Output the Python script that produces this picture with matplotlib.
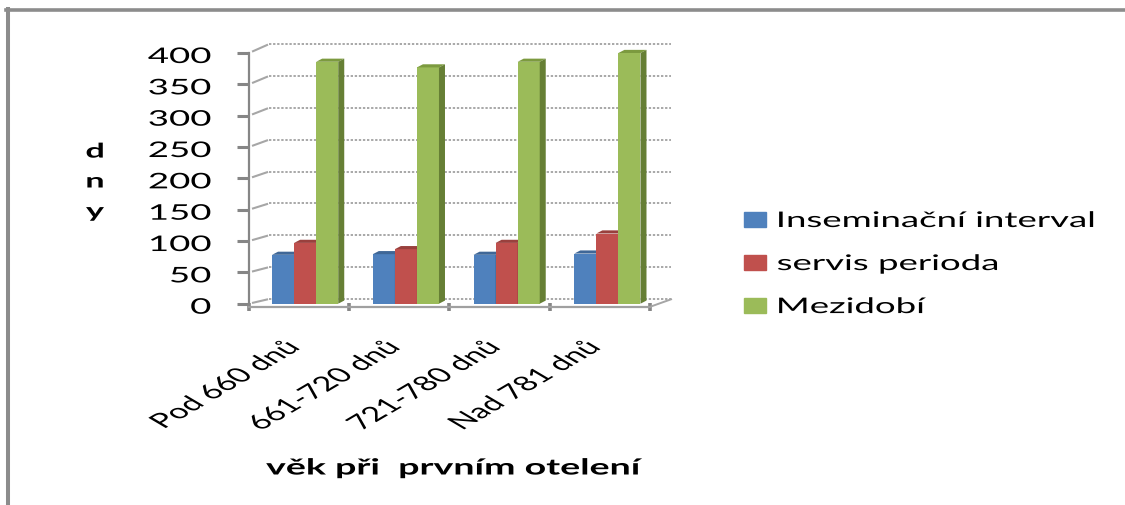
import matplotlib
matplotlib.use("Agg")
import matplotlib.pyplot as plt
from matplotlib.lines import Line2D
from matplotlib.patches import Patch
from matplotlib.patheffects import AbstractPathEffect
from matplotlib.transforms import Affine2D

W, H = 1125, 506

# Data
categories = ["Pod 660 dnů", "661-720 dnů", "721-780 dnů", "Nad 781 dnů"]
inseminacni = [78, 79, 78, 80]
servis = [97, 87, 97, 112]
mezidobi = [386, 377, 386, 400]
y_ticks = [0, 50, 100, 150, 200, 250, 300, 350, 400]

series = [
    ("Inseminační interval", inseminacni, "#4f81bd", "#3f6797", "#385d8a"),
    ("servis perioda", servis, "#c0504d", "#99403d", "#8c3a38"),
    ("Mezidobí", mezidobi, "#9bbb59", "#7c9a3f", "#667f35"),
]

GRAY = "#868686"
BAR_W = 0.22
DEPTH_X = 0.06   # bar depth in category units
DEPTH_Y = 5.0    # bar depth in value units
FONT = "Lato"
STRETCH = 1.7


class StretchX(AbstractPathEffect):
    """Widen drawn text horizontally, keeping one edge of it in place."""

    def __init__(self, factor=STRETCH, anchor="left", dy=0):
        super().__init__()
        self.factor = factor
        self.anchor = anchor
        self.dy = dy

    def draw_path(self, renderer, gc, tpath, affine, rgbFace=None):
        box = tpath.get_extents(affine)
        ax_x = {"left": box.x0, "right": box.x1, "center": (box.x0 + box.x1) / 2}[self.anchor]
        wide = affine + Affine2D().translate(-ax_x, 0).scale(self.factor, 1).translate(ax_x, self.dy)
        renderer.draw_path(gc, tpath, wide, rgbFace)


def px_rect(x0, y_top, x1, y_bottom):
    return [x0 / W, 1 - y_bottom / H, (x1 - x0) / W, (y_bottom - y_top) / H]


fig = plt.figure(figsize=(W / 100, H / 100), dpi=100, facecolor="white")

# Outer chart frame, open at the right and bottom
fig.add_artist(Line2D([6 / W, 1], [1 - 10.8 / H] * 2, color="#8c8c8c", lw=2.6))
fig.add_artist(Line2D([8 / W] * 2, [0, 1 - 9.5 / H], color="#8c8c8c", lw=2.9))

# Back wall with dotted gridlines
back = fig.add_axes(px_rect(269, 45, 671, 300))
back.set_xlim(0, 4)
back.set_ylim(0, 400)
back.set_yticks(y_ticks)
back.set_xticks([])
back.tick_params(left=False, labelleft=False)
back.grid(axis="y", color="#a8a8a8", lw=1.4, ls=(0, (1.2, 0.9)))
for gl in back.get_ygridlines():
    gl.set_clip_on(False)
back.set_axisbelow(True)
for s in back.spines.values():
    s.set_visible(False)
back.patch.set_alpha(0)

# Front axes carrying bars, ticks and labels
ax = fig.add_axes(px_rect(249, 54, 650, 304.7))
ax.patch.set_alpha(0)
ax.set_xlim(0, 4)
ax.set_ylim(0, 400)

for j, (name, vals, front, top, side) in enumerate(series):
    for i, v in enumerate(vals):
        x0 = i + 0.23 + 0.005 * i + j * BAR_W
        x1 = x0 + BAR_W
        ax.bar(x0, v, BAR_W, align="edge", color=front, zorder=3 + j, clip_on=False)
        ax.fill([x0, x0 + DEPTH_X, x1 + DEPTH_X, x1], [v, v + DEPTH_Y, v + DEPTH_Y, v],
                color=top, zorder=3 + j, clip_on=False, lw=0)
        ax.fill([x1, x1 + DEPTH_X, x1 + DEPTH_X, x1], [0, DEPTH_Y, v + DEPTH_Y, v],
                color=side, zorder=3 + j, clip_on=False, lw=0)

# Short slanted connectors between the front axis and the back wall
for t in y_ticks:
    rise = 7.5 + 0.0167 * t
    ax.plot([0.04, 0.18], [t + rise * 0.2, t + rise * 0.9], color="#a6a6a6", lw=1.5,
            zorder=2, clip_on=False)
ax.plot([4.0, 4.21], [-5, 7], color="#a6a6a6", lw=1.4, zorder=2, clip_on=False)

for side_name in ("top", "right"):
    ax.spines[side_name].set_visible(False)
ax.spines["left"].set_color(GRAY)
ax.spines["left"].set_linewidth(1.6)
ax.spines["bottom"].set_color("#a0a0a0")
ax.spines["bottom"].set_linewidth(1.6)
ax.spines["bottom"].set_position(("outward", 2.5))

ax.set_yticks(y_ticks)
ax.tick_params(axis="y", length=8.5, width=2.2, color=GRAY, pad=19, labelsize=15.5)
for label in ax.get_yticklabels():
    label.set_family(FONT)
    label.set_path_effects([StretchX(anchor="right", dy=-2)])
ax.set_xticks([0, 1, 2, 3, 4])
ax.set_xticklabels([])
ax.tick_params(axis="x", length=6, width=2.6, color=GRAY, direction="inout")

# Category labels sit between the ticks
for i, c in enumerate(categories):
    ax.annotate(c, (i + 0.5, 0), xytext=(-6, -25), textcoords="offset points",
                rotation=45, ha="right", va="top", rotation_mode="anchor",
                fontsize=14.6, family=FONT, color="black",
                path_effects=[StretchX(anchor="right")])

fig.text(95 / W, 1 - 182.5 / H, "d\nn\ny", ha="center", va="center", fontsize=14.5,
         fontweight="bold", family=FONT, linespacing=1.62,
         path_effects=[StretchX(anchor="center")])
fig.text(454 / W, 1 - 469 / H, "věk při  prvním otelení", ha="center", va="center",
         fontsize=15.9, fontweight="bold", family=FONT,
         path_effects=[StretchX(anchor="center")])

handles = [Patch(color=s[2], label=s[0]) for s in series]
leg = fig.legend(handles=handles, loc="upper left", bbox_to_anchor=(744 / W, 1 - 212 / H),
                 frameon=False, prop={"family": FONT, "size": 15.5},
                 handlelength=1.02, handleheight=0.68, handletextpad=0.52,
                 labelspacing=1.07, borderpad=0, borderaxespad=0)
for text in leg.get_texts():
    text.set_path_effects([StretchX(anchor="left")])

fig.savefig("out.png", dpi=100)
